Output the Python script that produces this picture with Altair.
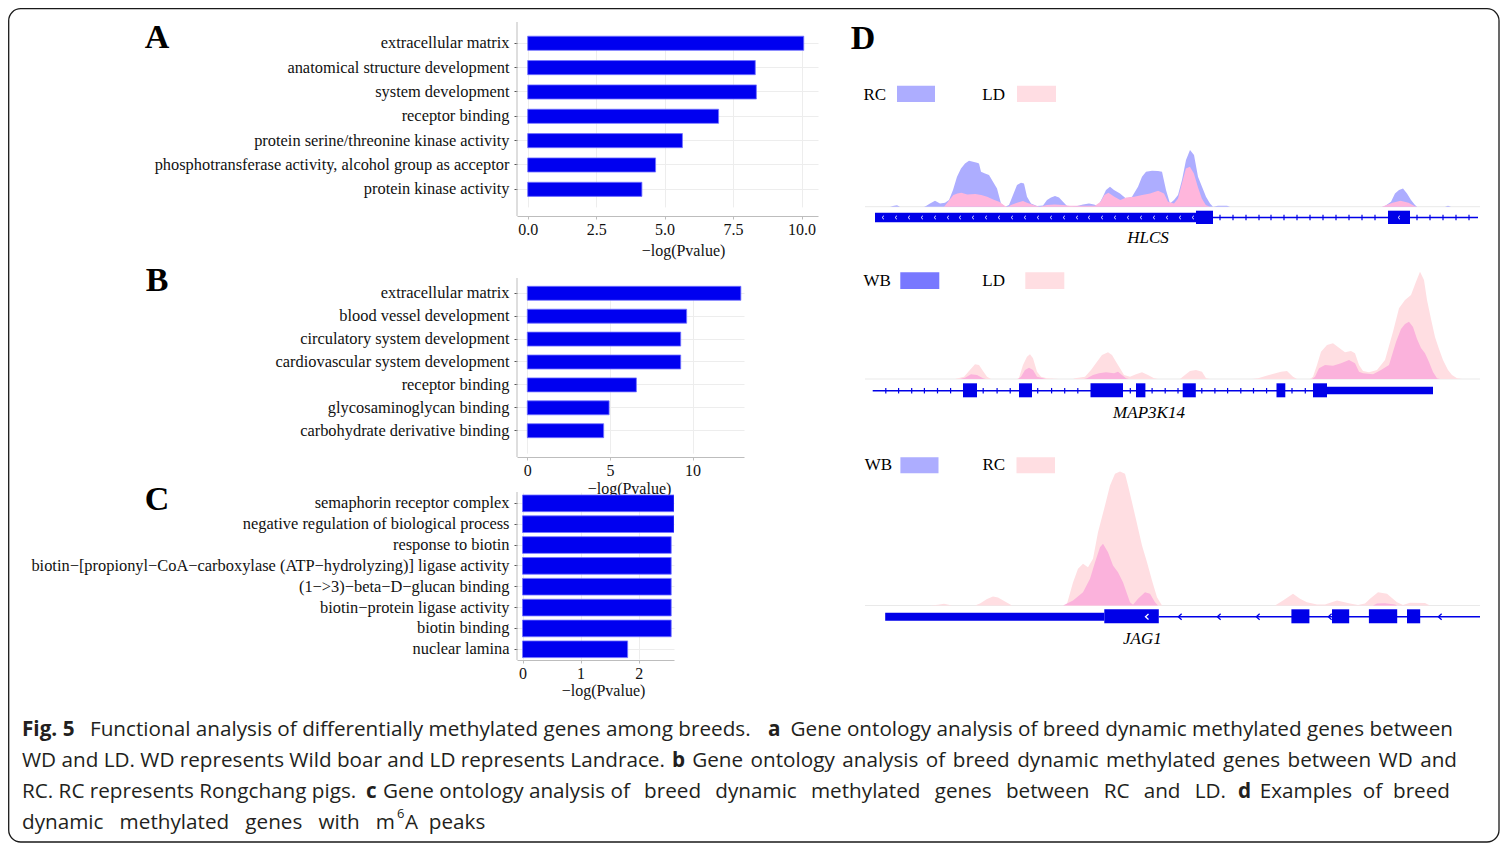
import altair as alt
import pandas as pd

SERIF = "Liberation Serif"
SANS = "Open Sans"
INK = "#111111"
BAR_FILL = "#0000f0"
BAR_EDGE = "#7373ff"
GENE_BLUE = "#0000e8"
AXIS_GREY = "#bdbdbd"
GRID_GREY = "#ededed"
LABEL_SIZE = 16.4

# ---------------- Panel A / B / C data ----------------
A_TERMS = ["extracellular matrix", "anatomical structure development", "system development",
           "receptor binding", "protein serine/threonine kinase activity",
           "phosphotransferase activity, alcohol group as acceptor", "protein kinase activity"]
A_VALUES = [10.08, 8.31, 8.35, 6.97, 5.65, 4.67, 4.17]

B_TERMS = ["extracellular matrix", "blood vessel development", "circulatory system development",
           "cardiovascular system development", "receptor binding", "glycosaminoglycan binding",
           "carbohydrate derivative binding"]
B_VALUES = [12.92, 9.64, 9.28, 9.28, 6.60, 4.95, 4.62]

C_TERMS = ["semaphorin receptor complex", "negative regulation of biological process",
           "response to biotin",
           "biotin−[propionyl−CoA−carboxylase (ATP−hydrolyzing)] ligase activity",
           "(1−>3)−beta−D−glucan binding", "biotin−protein ligase activity", "biotin binding",
           "nuclear lamina"]
C_VALUES = [2.61, 2.61, 2.56, 2.56, 2.56, 2.56, 2.56, 1.81]

# ---------------- Panel D data (position along locus, coverage) ----------------
D1_RC = [(0, 0), (30, 0), (34, 1), (37, 1.5), (40, 0), (64, 0), (66, 0.7), (70, 3.3), (75, 6), (80, 3.3),
         (85, 4), (89, 6.7), (93, 16.7), (97, 30), (101, 38.3), (105, 43.3), (109, 46), (113, 45),
         (117, 44), (119, 43.3), (121, 35), (125, 33.3), (129, 31.7), (133, 25), (137, 18.3),
         (141, 3.3), (145, 0), (149, 1.7), (153, 11.7), (157, 21.7), (161, 24), (164, 23.3),
         (167, 10), (171, 3.3), (177, 0.7), (183, 1.3), (187, 6.7), (191, 9.3), (195, 10.7),
         (199, 9.3), (203, 5), (207, 0.7), (211, 0.3), (217, 0.7), (223, 2.3), (229, 3.3),
         (234, 2.3), (238, 0.7), (242, 8.3), (246, 16.7), (250, 20), (254, 16.7), (260, 13.3),
         (266, 8.3), (272, 10), (278, 20), (282, 30), (286, 35), (292, 36), (298, 35.7), (302, 35),
         (306, 16.7), (310, 3.3), (314, 6.7), (318, 11.7), (322, 26.7), (326, 46.7), (330, 56.7),
         (334, 51.7), (338, 30), (342, 20), (346, 10), (350, 3.3), (353, 0), (358, 1), (367, 1),
         (370, 0), (522, 0), (525, 0.7), (531, 5), (535, 13.3), (539, 16.7), (543, 18.3),
         (547, 13.3), (551, 6.7), (555, 1.7), (557, 0), (585, 0), (588, 1), (591, 0), (620, 0)]
D1_LD = [(84, 0), (85.5, 1.7), (89.4, 6.7), (93.4, 11.7), (97.4, 13.3), (101.4, 14), (107.3, 12.3),
         (115.3, 12.7), (121.2, 11.7), (127.2, 10), (133.1, 7.3), (139.1, 5), (145.1, 0.7),
         (148, 0), (151, 1.7), (157, 4), (163, 5.7), (167, 4), (175, 1.3), (180, 0), (186.8, 1.7),
         (194.8, 2.3), (202.7, 1.7), (210, 1), (235, 1), (240.5, 5), (244.4, 11.7), (248.4, 14),
         (254.4, 10), (260.3, 6.7), (266.3, 9.3), (274.2, 10), (282.2, 11.7), (290.1, 13.3),
         (298.1, 16), (304, 13.3), (308, 5), (314, 3.3), (318, 8.3), (321.9, 23.3), (325.9, 38.3),
         (329.9, 40), (333.9, 33.3), (337.8, 20), (341.8, 8.3), (345.8, 1.7), (349.8, 0), (522, 0),
         (524.6, 1), (532.6, 4), (540.5, 6), (548.5, 4), (554.5, 0.7), (557, 0)]

D2_LD = [(0, 0), (95, 0), (104, 2.3), (109, 8), (115, 14.7), (119, 14), (123, 8), (127, 2.3), (131, 0),
         (157, 0), (159, 1.3), (163, 14), (167, 22.3), (170, 24.7), (173, 20.7), (177, 7.3),
         (181, 2.3), (187, 0.7), (199, 0), (213, 0), (215, 0.7), (225, 2.3), (231, 9), (237, 17.3),
         (242, 24), (248, 26.7), (252, 24), (256, 17.3), (260, 10.7), (264, 4), (270, 2.3),
         (276, 4.7), (282, 6.7), (288, 4), (294, 0.7), (298, 0), (320, 0), (324, 3.3), (330, 8),
         (336, 9), (342, 7.3), (346, 0.7), (350, 0), (392, 0), (398, 0.7), (409, 4), (421, 7.3),
         (427, 8), (433, 2.3), (437, 0), (450, 0), (453, 2.3), (457, 14), (461, 27.3), (467, 34),
         (473, 35.7), (479, 31.3), (485, 26.7), (491, 28), (495, 25.7), (499, 14), (503, 8),
         (509, 6.7), (517, 9), (525, 19), (533, 47.3), (539, 70.7), (545, 79), (551, 84),
         (556, 97.3), (560, 107.3), (564, 99), (567, 79), (571, 60), (575, 42), (579, 30),
         (583, 19), (588, 9), (592, 4), (597, 0.7), (602, 0), (620, 0)]
D2_WB = [(100, 0), (105, 1.3), (111, 4.7), (117, 4), (123, 0.7), (126, 0), (158, 0), (161, 2.3),
         (165, 9), (169, 11.3), (173, 9), (177, 2.3), (183, 0.7), (186, 0), (224, 0), (227, 0.7),
         (233, 4), (239, 5.7), (246, 6.7), (254, 5.7), (258, 7.3), (262, 4), (266, 0.7), (269, 0),
         (452, 0), (455, 2.3), (459, 10.7), (465, 14), (473, 13.3), (481, 15.7), (489, 19),
         (495, 15.7), (499, 7.3), (503, 5.7), (513, 4.7), (521, 9), (529, 14), (536, 37),
         (541, 50), (545, 55), (549, 57.3), (553, 52), (557, 40), (561, 31), (565, 25.7),
         (569, 17), (573, 7), (577, 0.7), (580, 0)]

D3_RC = [(0, 0), (70, 0), (78, 0.7), (84, 1.7), (92, 0), (115, 0), (120, 2), (127, 6.5), (133, 9),
         (138, 8), (145, 4), (152, 0), (205, 0), (207, 1.7), (213, 23), (218, 36.7), (223, 41.7),
         (228, 38.3), (233, 46.7), (238, 73.3), (245, 100), (250, 120), (255, 131.7), (260, 134),
         (265, 131.7), (268, 120), (272, 103.3), (277, 81.7), (282, 60), (287, 43.3), (292, 25),
         (297, 8.3), (302, 0), (415, 0), (423, 5), (433, 11.7), (440, 6.7), (447, 3.3), (457, 1),
         (465, 1), (477, 5), (490, 2), (498, 0.5), (505, 2), (510, 6.7), (518, 13.3), (527, 11.7),
         (537, 3.3), (543, 0.5), (550, 2.7), (565, 2.5), (570, 0), (620, 0)]
D3_WB = [(200, 0), (203, 0), (213, 5), (223, 13.3), (230, 26.7), (235, 43.3), (240, 58.3),
         (243, 61.7), (248, 53.3), (253, 40), (258, 33.3), (263, 23.3), (267, 11.7), (270, 3.3),
         (273, 0.7), (278, 6.7), (285, 13.3), (290, 11.7), (295, 3.3), (298, 0), (513, 0),
         (517, 2), (525, 2.3), (535, 1), (537, 0)]

# gene models (start, end along locus)
D1_THICK = [(15, 336)]
D1_EXONS = [(336, 353), (528, 550)]
D1_LINE = [(353, 618)]
D1_TICKS = [360, 373, 386, 399, 411, 424, 437, 450, 463, 476, 489, 502, 515, 557, 570, 583, 596, 609]
D1_WHITE = [23, 36, 49, 62, 75, 88, 100, 113, 126, 139, 152, 165, 178, 191, 204, 217, 229, 242,
            255, 268, 281, 294, 307, 320, 333, 539]

D2_LINE = [(12.7, 573)]
D2_EXONS = [(103, 117), (159, 172), (230.5, 263), (276, 285.4), (322.7, 335.8), (416.5, 425.3),
            (453, 467)]
D2_THICK = [(467, 573)]
D2_TICKS = [25.8, 38.6, 51.7, 64.4, 77.5, 90.6, 123.2, 137.1, 150.2, 177.7, 191.6, 204.7, 217.8,
            270.3, 292.1, 305.2, 318, 341.8, 354.9, 367.6, 380.8, 393.5, 406.6, 432, 445.3]

D3_THICK = [(25.2, 244.3)]
D3_EXONS = [(244.3, 298.8), (431.4, 449.4), (472, 489.2), (508.9, 537.2), (547, 560.2)]
D3_LINE = [(298.8, 620)]
D3_CHEV = [320, 359, 398, 470, 580]
D3_WHITE = [287]

ONE = pd.DataFrame({"k": [0]})


def bar_panel(terms, values, width, height, xdomain, yrange, pad_inner, ticks, fmt,
              title_x, title_y, letter, letter_y):
    df = pd.DataFrame({"term": terms, "value": values})
    x_axis = alt.Axis(values=ticks, format=fmt, title="−log(Pvalue)", grid=True, gridColor=GRID_GREY,
                      domainColor=AXIS_GREY, tickColor=AXIS_GREY, tickSize=3, labelPadding=2,
                      labelFont=SERIF, labelFontSize=16, labelColor=INK, titleFont=SERIF,
                      titleFontSize=16, titleFontWeight="normal", titleColor=INK,
                      titleX=title_x, titleY=title_y, titleBaseline="middle", labelFlush=False)
    y_axis = alt.Axis(title=None, labelFont=SERIF, labelFontSize=LABEL_SIZE, labelColor=INK,
                      labelLimit=700, domain=False, tickColor="#555555", tickSize=3, labelPadding=5,
                      grid=True, gridColor=GRID_GREY, bandPosition=0.5)
    bars = alt.Chart(df).mark_bar(fill=BAR_FILL, stroke=BAR_EDGE, strokeWidth=0.8, clip=True).encode(
        x=alt.X("value:Q", scale=alt.Scale(domain=xdomain, nice=False, zero=False), axis=x_axis),
        x2=alt.datum(0),
        y=alt.Y("term:N", sort=terms,
                scale=alt.Scale(range=yrange, paddingInner=pad_inner, paddingOuter=pad_inner / 2),
                axis=y_axis),
    )
    yline = alt.Chart(ONE).mark_rule(color=AXIS_GREY, strokeWidth=1).encode(
        x=alt.value(0), y=alt.value(0), y2=alt.value(height))
    tag = alt.Chart(ONE).mark_text(text=letter, font=SERIF, fontSize=34, fontWeight="bold",
                                   color="#000000", align="center", baseline="middle").encode(
        x=alt.value(-360), y=alt.value(letter_y))
    return alt.layer(yline, bars, tag).properties(width=width, height=height)


XS = alt.Scale(domain=[0, 620], nice=False, zero=False)


def seg_layer(segs, y_top, y_bot, color):
    df = pd.DataFrame(segs, columns=["start", "end"])
    return alt.Chart(df).mark_rect(color=color).encode(
        x=alt.X("start:Q", scale=XS, axis=None), x2="end:Q",
        y=alt.value(y_top), y2=alt.value(y_bot))


def line_layer(segs, y, color):
    df = pd.DataFrame(segs, columns=["start", "end"])
    return alt.Chart(df).mark_rule(color=color, strokeWidth=1.6).encode(
        x=alt.X("start:Q", scale=XS, axis=None), x2="end:Q", y=alt.value(y))


def mark_layer(positions, y, shape, size, color, width=1.2):
    df = pd.DataFrame({"pos": positions})
    return alt.Chart(df).mark_point(shape=shape, size=size, filled=False, stroke=color,
                                    strokeWidth=width, opacity=1).encode(
        x=alt.X("pos:Q", scale=XS, axis=None), y=alt.value(y))


def area_layer(points, base, color):
    df = pd.DataFrame(points, columns=["pos", "h"])
    ys = alt.Scale(domain=[0, 100], range=[base, base - 100], nice=False)
    return alt.Chart(df).mark_area(color=color, opacity=1, interpolate="linear").encode(
        x=alt.X("pos:Q", scale=XS, axis=None), y=alt.Y("h:Q", scale=ys, axis=None))


def text_layer(txt, x, y, size=17, style="normal", weight="normal", align="left"):
    return alt.Chart(ONE).mark_text(text=txt, font=SERIF, fontSize=size, fontStyle=style,
                                    fontWeight=weight, align=align, baseline="middle",
                                    color="#000000").encode(x=alt.value(x), y=alt.value(y))


def swatch(x0, x1, y0, y1, color):
    return alt.Chart(ONE).mark_rect(color=color).encode(
        x=alt.value(x0), x2=alt.value(x1), y=alt.value(y0), y2=alt.value(y1))


def baseline(y):
    return alt.Chart(ONE).mark_rule(color="#e9e9e9", strokeWidth=1).encode(
        x=alt.value(5), x2=alt.value(620), y=alt.value(y))


CHEVRON = "M0.55,-1L-0.55,0L0.55,1"
VTICK = "M0,-1L0,1"

LAV = "#adadff"
PINK_LIGHT = "#ffdee2"
PINK_MID = "#fbb2dc"

# ---- D1 ----
d1 = alt.layer(
    text_layer("D", 3, 17, size=34, weight="bold", align="center"),
    text_layer("RC", 3.4, 73), swatch(37, 75, 63.7, 80, LAV),
    text_layer("LD", 122.3, 73), swatch(157, 196, 63.7, 80, "#ffdde3"),
    baseline(184.7),
    area_layer(D1_RC, 184.7, LAV),
    area_layer(D1_LD, 184.7, "#ffb6dc"),
    line_layer(D1_LINE, 195.5, GENE_BLUE),
    seg_layer(D1_THICK, 190.7, 200.3, GENE_BLUE),
    seg_layer(D1_EXONS, 188.7, 202, GENE_BLUE),
    mark_layer(D1_TICKS, 195.5, VTICK, 30, GENE_BLUE),
    mark_layer(D1_WHITE, 195.5, CHEVRON, 12, "#ffffff", 0.9),
    text_layer("HLCS", 288, 216.3, style="italic", align="center"),
).properties(width=620, height=221)

# ---- D2 ----
d2 = alt.layer(
    text_layer("WB", 3.4, 3), swatch(40.3, 79.3, -5.7, 11, "#7878ff"),
    text_layer("LD", 122.3, 3), swatch(165.3, 204.3, -5.7, 11, PINK_LIGHT),
    baseline(101),
    area_layer(D2_LD, 101, PINK_LIGHT),
    area_layer(D2_WB, 101, PINK_MID),
    line_layer(D2_LINE, 112.7, GENE_BLUE),
    mark_layer(D2_TICKS, 112.7, VTICK, 30, GENE_BLUE),
    seg_layer(D2_THICK, 108.7, 116.3, GENE_BLUE),
    seg_layer(D2_EXONS, 105.3, 119.3, GENE_BLUE),
    text_layer("MAP3K14", 289, 135.3, style="italic", align="center"),
).properties(width=620, height=179)

# ---- D3 ----
d3 = alt.layer(
    text_layer("WB", 4.7, -27), swatch(40.4, 78.5, -34.7, -18.7, LAV),
    text_layer("RC", 122.4, -27), swatch(156.5, 195, -34.7, -18.7, PINK_LIGHT),
    baseline(113.5),
    area_layer(D3_RC, 113.5, PINK_LIGHT),
    area_layer(D3_WB, 113.5, PINK_MID),
    line_layer(D3_LINE, 124.7, GENE_BLUE),
    mark_layer(D3_CHEV, 124.7, CHEVRON, 36, GENE_BLUE, 1.3),
    seg_layer(D3_THICK, 120.7, 128.7, GENE_BLUE),
    seg_layer(D3_EXONS, 117.3, 131.3, GENE_BLUE),
    mark_layer(D3_WHITE, 124.7, CHEVRON, 30, "#ffffff", 1.3),
    text_layer("JAG1", 282.4, 147.3, style="italic", align="center"),
).properties(width=620, height=168)

# ---- A, B, C ----
panel_a = bar_panel(A_TERMS, A_VALUES, 301, 194, [-0.39, 10.6], [9.1, 179.5], 0.42,
                    [0, 2.5, 5, 7.5, 10], ".1f", 166, 34, "A", 16)
panel_b = bar_panel(B_TERMS, B_VALUES, 227, 179, [-0.623, 13.11], [3.85, 164.15], 0.39,
                    [0, 5, 10], "d", 112, 31, "B", 3)
panel_c = bar_panel(C_TERMS, C_VALUES, 157, 168, [-0.095, 2.608], [0.9, 167.7], 0.2,
                    [0, 1, 2], "d", 86, 30, "C", 8)

# ---- caption (cell origin at page x=517, y=695) ----
NB = "\u00a0"
G2 = NB + " "
G3 = NB + NB + " "
GW = NB + "\u2009 "
GS = " \u200a"
CS = 20.7
CAPTION = [
    ("Fig. 5", 22, 730, "bold", "left", CS),
    ("Functional analysis of differentially methylated genes among breeds.", 90, 730, "normal", "left", CS),
    ("a", 768, 730, "bold", "left", CS),
    ("Gene ontology analysis of breed dynamic methylated genes between", 1453, 730, "normal", "right", CS),
    ("WD and LD. WD represents Wild boar and LD represents Landrace.", 22, 761, "normal", "left", CS),
    ("b", 672, 761, "bold", "left", CS),
    (GS.join(["Gene", "ontology", "analysis", "of", "breed", "dynamic", "methylated", "genes",
              "between", "WD", "and"]), 1457, 761, "normal", "right", CS),
    ("RC. RC represents Rongchang pigs.", 22, 792, "normal", "left", CS),
    ("c", 366, 792, "bold", "left", CS),
    ("Gene ontology analysis of" + GW + GW.join(["breed", "dynamic", "methylated", "genes", "between",
                                                  "RC", "and", "LD."]), 383, 792, "normal", "left", CS),
    ("d", 1238, 792, "bold", "left", CS),
    ("Examples" + G2 + "of" + G2 + "breed", 1450, 792, "normal", "right", CS),
    ("dynamic" + G3 + "methylated" + G3 + "genes" + G3 + "with" + G3 + "m", 22, 823,
     "normal", "left", CS),
    ("6", 397, 814, "normal", "left", 13),
    ("A" + G2 + "peaks", 405, 823, "normal", "left", CS),
]
OX, OY = 517, 695
cap_layers = [alt.Chart(ONE).mark_rect(filled=False, stroke="#1a1a1a", strokeWidth=1.3,
                                       cornerRadius=12).encode(
    x=alt.value(8.7 - OX), x2=alt.value(1499 - OX), y=alt.value(8.7 - OY), y2=alt.value(842 - OY))]
for txt, xp, yp, weight, align, size in CAPTION:
    cap_layers.append(alt.Chart(ONE).mark_text(text=txt, font=SANS, fontSize=size, fontWeight=weight,
                                               align=align, baseline="middle", color="#231f20").encode(
        x=alt.value(xp - OX), y=alt.value(yp - OY)))
caption = alt.layer(*cap_layers).properties(width=301, height=1)

chart = alt.concat(panel_a, d1, panel_b, d2, panel_c, d3, caption, columns=2,
                   spacing={"row": 35, "column": 42}, bounds="flush").properties(
    padding=0, background="white").configure_view(stroke=None)

chart.save("out.html", embed_options={"renderer": "svg", "actions": False})
